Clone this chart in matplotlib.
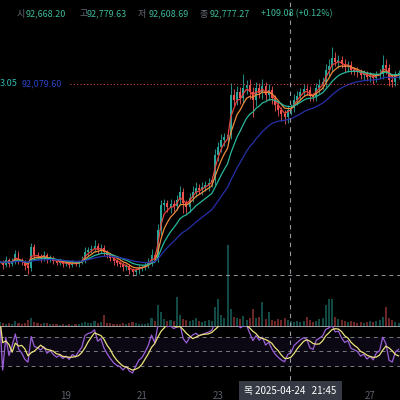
import numpy as np
import pandas as pd
import matplotlib
matplotlib.use("Agg")
import matplotlib.pyplot as plt
from matplotlib.lines import Line2D

plt.rcParams['font.family'] = ['Noto Sans CJK KR', 'DejaVu Sans']

# 2h candles, hours counted from 2025-04-17 06:00
closes = [84660, 84500, 84770, 84550, 84720, 85090, 84770, 84660, 84450, 84340,
          85470, 85040, 84990, 84880, 85040, 84770, 84880, 84720, 84610, 84660,
          84550, 84610, 84500, 84610, 84550, 84660, 84770, 85200, 85310, 85360,
          85530, 85310, 85420, 85200, 85040, 84880, 84720, 84610, 84550, 84390,
          84450, 84230, 84120, 84230, 84340, 84390, 84500, 84660, 85040, 84880,
          86390, 87740, 87850, 87630, 87790, 87690, 88010, 88440, 87850, 87630,
          88120, 88440, 88660, 88550, 88710, 88820, 88930, 89090, 90440, 90870,
          91250, 91410, 91520, 93680, 93410, 93840, 93520, 94060, 94220, 93840,
          93410, 94060, 93790, 94170, 93680, 93950, 93520, 93140, 92870, 92650,
          92490, 92870, 92980, 93410, 93630, 93840, 94000, 93950, 93630, 93570,
          94060, 94220, 94380, 95030, 95250, 95680, 95460, 95570, 95350, 95190,
          95300, 95030, 94980, 94920, 94760, 94810, 94650, 94710, 94600, 94760,
          94810, 95300, 95140, 94490, 94380, 94760, 94870]
first_open = 84600

wick_up = [150, 100, 200, 120, 180, 220, 150, 100, 120, 80,
           220, 150, 180, 120, 200, 100, 150, 120, 100, 150,
           100, 120, 80, 150, 100, 120, 200, 250, 180, 200,
           300, 150, 200, 150, 120, 100, 150, 100, 80, 120,
           100, 80, 100, 120, 150, 100, 150, 200, 350, 150,
           300, 250, 200, 150, 250, 200, 250, 350, 200, 150,
           250, 300, 300, 200, 250, 200, 250, 200, 300, 250,
           300, 200, 250, 650, 300, 350, 250, 750, 250, 300,
           250, 300, 250, 350, 200, 300, 200, 150, 200, 150,
           200, 250, 200, 300, 250, 200, 250, 200, 200, 150,
           250, 300, 250, 350, 400, 600, 300, 250, 200, 250,
           200, 200, 150, 200, 150, 200, 150, 200, 150, 200,
           250, 550, 300, 200, 250, 200, 150]
wick_dn = [150, 200, 120, 180, 100, 150, 200, 150, 200, 300,
           150, 200, 150, 200, 150, 150, 120, 150, 100, 120,
           150, 100, 150, 120, 100, 150, 100, 150, 200, 150,
           150, 200, 150, 200, 150, 150, 200, 150, 150, 200,
           150, 200, 200, 150, 200, 150, 150, 150, 200, 150,
           200, 250, 300, 250, 300, 250, 200, 250, 550, 300,
           250, 200, 250, 200, 250, 200, 300, 200, 250, 300,
           250, 300, 250, 200, 300, 250, 350, 250, 300, 350,
           900, 300, 250, 300, 350, 250, 300, 350, 300, 350,
           350, 300, 250, 200, 250, 200, 200, 250, 300, 200,
           200, 250, 200, 250, 300, 250, 200, 300, 200, 250,
           250, 200, 200, 250, 200, 250, 200, 250, 300, 200,
           200, 250, 300, 350, 250, 200, 200]
volume = [500, 400, 350, 450, 300, 600, 400, 350, 450, 700,
          900, 500, 400, 350, 450, 400, 300, 350, 300, 250,
          300, 250, 300, 250, 350, 300, 400, 500, 450, 400,
          600, 400, 500, 1200, 450, 400, 350, 300, 350, 400,
          350, 450, 500, 400, 350, 300, 350, 400, 900, 600,
          2200, 1500, 800, 600, 700, 600, 3000, 1200, 800, 700,
          600, 700, 900, 600, 500, 600, 700, 600, 2000, 2800,
          1200, 900, 8200, 1800, 1000, 900, 800, 1100, 700, 900,
          1800, 900, 1000, 2500, 800, 1500, 700, 600, 800, 700,
          900, 700, 600, 500, 600, 500, 600, 1000, 700, 500,
          600, 800, 900, 2200, 2800, 2800, 1000, 800, 700, 600,
          500, 600, 500, 400, 500, 400, 500, 600, 500, 600,
          700, 1000, 2000, 900, 700, 500, 400]

ema_spans = [3, 6, 12, 25]
ema_colors = ['#e8413c', '#ee8a3a', '#27b89b', '#2630a8']
rsi_period = 7
signal_period = 4

day_ticks = [42, 90, 138, 234]
day_labels = ['19', '21', '23', '27']
ohlc_labels = ['시', '고', '저', '종']
ohlc_values = ['92,668.20', '92,779.63', '92,608.69', '92,777.27']
change_text = '+109.08 (+0.12%)'
cursor_hour = 183.75
cursor_text = '목 2025-04-24   21:45'
ref_price = 94270
cross_price = 83960

UP = '#26a69a'
DOWN = '#ef5350'

hours = np.arange(len(closes)) * 2.0
close = np.array(closes, dtype=float)
opens = np.r_[first_open, close[:-1]]
highs = np.maximum(opens, close) + np.array(wick_up)
lows = np.minimum(opens, close) - np.array(wick_dn)
up = close >= opens
cols = np.where(up, UP, DOWN)

s = pd.Series(close)
delta = pd.Series(close - opens)
gain = delta.clip(lower=0).ewm(alpha=1 / rsi_period, adjust=True).mean()
loss = (-delta.clip(upper=0)).ewm(alpha=1 / rsi_period, adjust=True).mean()
rsi = 100 - 100 / (1 + gain / loss.replace(0, 1e-9))
rsi_sig = rsi.rolling(signal_period, min_periods=1).mean()

fig = plt.figure(figsize=(4, 4), dpi=100, facecolor='black')
xlim = (0.32, 252.9)


def px_axes(top, bottom):
    return [0, 1 - bottom / 400, 1, (bottom - top) / 400]


ax_vol = fig.add_axes(px_axes(240, 327))
ax = fig.add_axes(px_axes(0, 328))
ax_rsi = fig.add_axes(px_axes(326, 378))

for a in (ax_vol, ax, ax_rsi):
    a.set_xlim(*xlim)
    for sp in a.spines.values():
        sp.set_visible(False)
    a.tick_params(left=False, labelleft=False, bottom=False, labelbottom=False)
ax.set_facecolor('none')
ax_vol.set_facecolor('black')
ax_rsi.set_facecolor('none')

# volume
ax_vol.bar(hours, volume, width=1.3, color=cols, alpha=0.45)
ax_vol.set_ylim(0, 8700)
ax_vol.axhline(0, color='#a8aab0', lw=1.3)

# candles
ax.vlines(hours, lows, highs, colors=cols, lw=0.6)
body = np.where(np.abs(close - opens) < 30, 30, close - opens)
ax.bar(hours, body, bottom=opens, width=1.2, color=cols)
for span, c in zip(ema_spans, ema_colors):
    ax.plot(hours, s.ewm(span=span, adjust=False).mean(), color=c, lw=0.9)
ax.set_ylim(81098, 98810)
ax.axhline(ref_price, xmin=70 / 400, color='#d04040', lw=0.8, ls=(0, (1, 2)))
ax.axhline(cross_price, color='#9598a1', lw=0.7, ls=(0, (4, 4)))

# rsi
ax_rsi.axhspan(30, 70, color='#7e57c2', alpha=0.1, lw=0)
for lvl in (30, 50, 70):
    ax_rsi.axhline(lvl, color='#787b86', lw=0.7, ls=(0, (4, 4)))
ax_rsi.plot(hours, rsi, color='#9b5fd8', lw=0.9)
ax_rsi.plot(hours, rsi_sig, color='#ece27a', lw=0.9)
ax_rsi.set_ylim(13.4, 85.2)
ax_rsi.set_xticks(day_ticks, day_labels)
ax_rsi.tick_params(labelbottom=True, colors='#5d606b', labelsize=7, pad=6)

# crosshair
cx = (cursor_hour - xlim[0]) / (xlim[1] - xlim[0])
fig.add_artist(Line2D([cx, cx], [1 - 380 / 400, 1], color='#9598a1', lw=0.8,
                      ls=(0, (4, 4))))
fig.text(cx, 1 - 391 / 400, cursor_text, color='white', fontsize=7,
         ha='center', va='center',
         bbox=dict(boxstyle='square,pad=0.55', fc='#363a45', ec='none'))

# header
label_x = [17, 79, 138, 200]
value_x = [26, 87, 149, 210]
for lx, vx, lab, val in zip(label_x, value_x, ohlc_labels, ohlc_values):
    fig.text(lx / 400, 1 - 14 / 400, lab, color='#6a6d78', fontsize=6.5, va='center')
    fig.text(vx / 400, 1 - 14 / 400, val, color='#3bb89a', fontsize=6.5, va='center')
fig.text(261 / 400, 1 - 14 / 400, change_text, color='#3bb89a', fontsize=6.5, va='center')

fig.text(0, 1 - 84 / 400, '3.05', color='#2fb8b0', fontsize=6.5, va='center')
fig.text(22 / 400, 1 - 84 / 400, '92,079.60', color='#2c44c8', fontsize=6.5, va='center')

fig.savefig('out.png', dpi=100, facecolor='black')
